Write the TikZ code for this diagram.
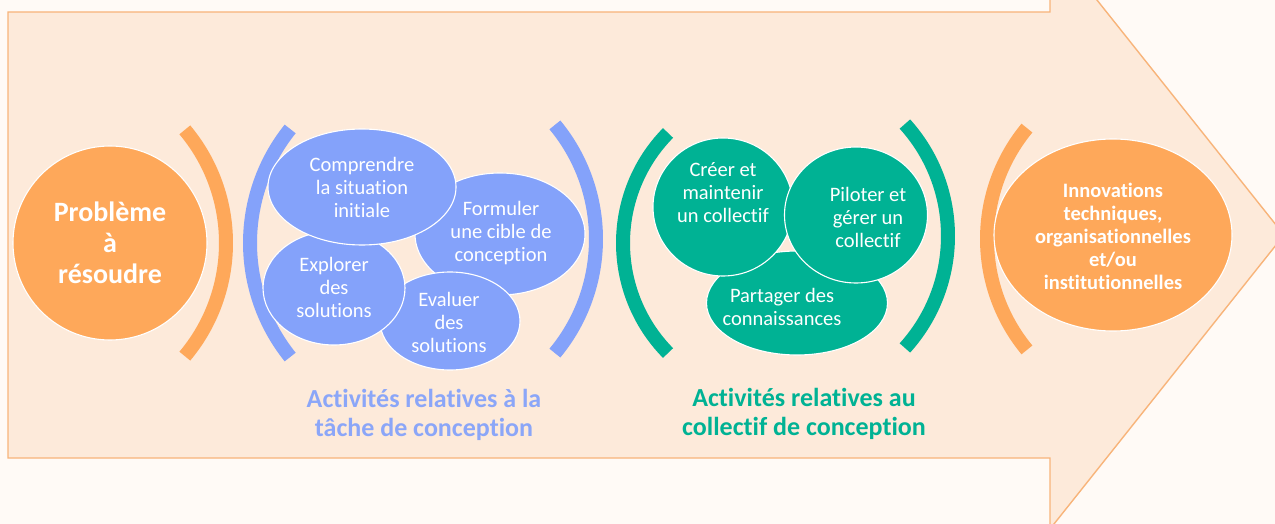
\documentclass[tikz,border=0pt]{standalone}
\usepackage{fontspec}
\setmainfont{Carlito}[Ligatures=NoCommon]
\usetikzlibrary{shapes.geometric}
\definecolor{bg}{HTML}{FFFAF6}
\definecolor{arrowfill}{HTML}{FDEADA}
\definecolor{arrowline}{HTML}{F8B47A}
\definecolor{orng}{HTML}{FEA85A}
\definecolor{blu}{HTML}{84A2FA}
\definecolor{blutxt}{HTML}{8BA6F8}
\definecolor{grn}{HTML}{00B294}
\begin{document}
\begin{tikzpicture}[x=1pt,y=-1pt,
  blob/.style={ellipse, draw=white, line width=1.1pt, inner sep=0pt},
  wtxt/.style={text=white, align=center, inner sep=0pt, font=\fontsize{20.5}{23}\selectfont},
  wbold/.style={text=white, align=center, inner sep=0pt, font=\bfseries\fontsize{20.5}{23}\selectfont},
  bigbold/.style={text=white, align=center, inner sep=0pt, font=\bfseries\fontsize{28}{31}\selectfont},
  brk/.style={line width=14pt, line cap=butt},
  lbl/.style={align=center, inner sep=0pt, font=\bfseries\fontsize{26}{29}\selectfont}]
\fill[bg] (0,0) rectangle (1275,524);
\useasboundingbox (0,0) rectangle (1275,524);
\begin{scope}
\clip (0,0) rectangle (1275,524);
\draw[arrowline, fill=arrowfill, line width=1.4pt, line join=miter]
  (8,12) -- (1050,12) -- (1050,-59) -- (1284,235) -- (1050,529) -- (1050,458) -- (8,458) -- cycle;
\end{scope}

% brackets
\draw[brk, orng] (50,243) ++(40:176) arc[start angle=40, end angle=-40, radius=176];
\draw[brk, blu] (432,243) ++(141.2:182) arc[start angle=141.2, end angle=218.8, radius=182];
\draw[brk, blu] (417,239) ++(39.6:179) arc[start angle=39.6, end angle=-39.6, radius=179];
\draw[brk, grn] (780,243) ++(135.5:157) arc[start angle=135.5, end angle=224.5, radius=157];
\draw[brk, grn] (781,236) ++(42.1:167) arc[start angle=42.1, end angle=-42.1, radius=167];
\draw[brk, orng] (1161,239) ++(140.4:174) arc[start angle=140.4, end angle=219.6, radius=174];

% problem
\node[circle, fill=orng, draw=white, line width=1.1pt, minimum size=194pt, inner sep=0pt] (prob) at (110,243) {};
\node[bigbold] (probT) at (110,243) {Problème\\à\\résoudre};

% blue task activities
\node[blob, fill=blu, minimum width=170pt, minimum height=122pt] (form) at (500,234) {};
\node[blob, fill=blu, minimum width=140pt, minimum height=98pt] (eval) at (450,321) {};
\node[blob, fill=blu, minimum width=142pt, minimum height=114pt] (expl) at (334,288) {};
\node[blob, fill=blu, minimum width=188pt, minimum height=116pt] (comp) at (362,187) {};
\node[wtxt] (compT) at (362,187) {Comprendre\\la situation\\initiale};
\node[wtxt] (formT) at (501,233) {Formuler\\une cible de\\conception};
\node[wtxt] (explT) at (334,287) {Explorer\\des\\solutions};
\node[wtxt] (evalT) at (449,322) {Evaluer\\des\\solutions};

% green collective activities
\node[blob, fill=grn, minimum width=181pt, minimum height=104pt] (part) at (797,303) {};
\node[blob, fill=grn, minimum width=140pt, minimum height=138pt] (creer) at (723,207) {};
\node[blob, fill=grn, minimum width=143pt, minimum height=136pt] (pil) at (856,215) {};
\node[wtxt] (creerT) at (723,193) {Créer et\\maintenir\\un collectif};
\node[wtxt] (pilT) at (868,217) {Piloter et\\gérer un\\collectif};
\node[wtxt] (partT) at (782,307) {Partager des\\connaissances};

% innovations
\node[blob, fill=orng, minimum width=238pt, minimum height=192pt] (innov) at (1113,235) {};
\node[wbold] (innovT) at (1113,236) {Innovations\\techniques,\\organisationnelles\\et/ou\\institutionnelles};

% labels
\node[lbl, text=blutxt] (lblTask) at (424,415) {Activités relatives à la\\tâche de conception};
\node[lbl, text=grn] (lblColl) at (804,414) {Activités relatives au\\collectif de conception};
\end{tikzpicture}
\end{document}
